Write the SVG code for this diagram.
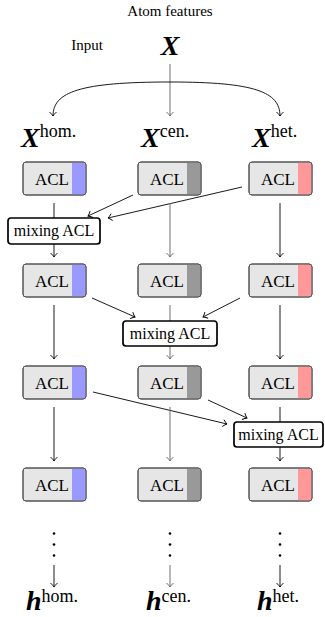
<svg xmlns="http://www.w3.org/2000/svg" width="325" height="617" viewBox="0 0 325 617" font-family="'Liberation Serif','Times New Roman',serif">
<style>
text{font-family:"Liberation Serif","Times New Roman",serif;fill:#000}
.lbl{font-size:15px;text-anchor:middle}
.big{font-size:28px;font-weight:bold;font-style:italic}
.sup{font-size:18px}
.acl{font-size:17px;text-anchor:middle}
.mix{font-size:16px;text-anchor:middle}
.box{fill:#e6e6e6;stroke:#555;stroke-width:1}
.mbox{fill:#fff;stroke:#000;stroke-width:1.7}
.k{fill:none;stroke:#000;stroke-width:0.9}
.g{fill:none;stroke:#707070;stroke-width:1}
.ka{fill:none;stroke:#000;stroke-width:0.9;marker-end:url(#ak)}
.ga{fill:none;stroke:#707070;stroke-width:1;marker-end:url(#ag)}
.dot{fill:#000}
</style>
<defs>
<marker id="ak" markerUnits="userSpaceOnUse" viewBox="-6 -5 8 10" markerWidth="8" markerHeight="10" refX="0" refY="0" orient="auto" overflow="visible">
<path d="M-4,-3.5 Q-1.5,-0.8 0,0 Q-1.5,0.8 -4,3.5" fill="none" stroke="#000" stroke-width="0.9"/>
</marker>
<marker id="ag" markerUnits="userSpaceOnUse" viewBox="-6 -5 8 10" markerWidth="8" markerHeight="10" refX="0" refY="0" orient="auto" overflow="visible">
<path d="M-4,-3.5 Q-1.5,-0.8 0,0 Q-1.5,0.8 -4,3.5" fill="none" stroke="#707070" stroke-width="1"/>
</marker>
</defs>

<g id="title">
<text class="lbl" x="170" y="16">Atom features</text>
<text class="lbl" x="87" y="50">Input</text>
<text class="big" x="170" y="55" text-anchor="middle">X</text>
</g>

<g id="inputs">
<text x="21" y="147"><tspan class="big">X</tspan><tspan class="sup" dy="-10">hom.</tspan></text>
<text x="141" y="147"><tspan class="big">X</tspan><tspan class="sup" dy="-10">cen.</tspan></text>
<text x="252" y="147"><tspan class="big">X</tspan><tspan class="sup" dy="-10">het.</tspan></text>
</g>

<g id="connectors">
<path class="ga" d="M170,64 L170,116"/>
<path class="ka" d="M170,82 C80,82 53,92 53,116"/>
<path class="ka" d="M170,82 C255,82 280,92 280,116"/>
<path class="k" d="M54,203 L54,218"/>
<path class="ka" d="M54,244 L54,257"/>
<path class="ka" d="M133,195 L88,216"/>
<path class="ka" d="M242,187 L108,218"/>
<path class="ga" d="M170,203 L170,257"/>
<path class="ka" d="M280,203 L280,257"/>
<path class="ka" d="M92,298 L135,317"/>
<path class="ka" d="M240,298 L203,317"/>
<path class="g" d="M170,305 L170,321"/>
<path class="ga" d="M170,346 L170,359"/>
<path class="ka" d="M54,305 L54,359"/>
<path class="ka" d="M280,305 L280,359"/>
<path class="ka" d="M93,392 L227,424"/>
<path class="ka" d="M208,400 L247,418"/>
<path class="k" d="M280,407 L280,422"/>
<path class="ka" d="M280,447 L280,461"/>
<path class="ka" d="M54,407 L54,461"/>
<path class="ga" d="M170,407 L170,461"/>
<path class="ka" d="M54,565 L54,587"/>
<path class="ga" d="M170,565 L170,587"/>
<path class="ka" d="M280,565 L280,587"/>
</g>

<g id="acl-hom-1"><rect class="box" x="23" y="162" width="63" height="33" rx="3"/><path d="M72,162.5 H83 A2.5,2.5 0 0 1 85.5,165 V192 A2.5,2.5 0 0 1 83,194.5 H72 Z" fill="#9999ff"/><rect x="23" y="162" width="63" height="33" rx="3" fill="none" stroke="#555"/><text class="acl" x="52" y="185">ACL</text></g>
<g id="acl-cen-1"><rect class="box" x="138" y="162" width="63" height="33" rx="3"/><path d="M187,162.5 H198 A2.5,2.5 0 0 1 200.5,165 V192 A2.5,2.5 0 0 1 198,194.5 H187 Z" fill="#999999"/><rect x="138" y="162" width="63" height="33" rx="3" fill="none" stroke="#555"/><text class="acl" x="167" y="185">ACL</text></g>
<g id="acl-het-1"><rect class="box" x="249" y="162" width="63" height="33" rx="3"/><path d="M298,162.5 H309 A2.5,2.5 0 0 1 311.5,165 V192 A2.5,2.5 0 0 1 309,194.5 H298 Z" fill="#ff9999"/><rect x="249" y="162" width="63" height="33" rx="3" fill="none" stroke="#555"/><text class="acl" x="278" y="185">ACL</text></g>

<g id="acl-hom-2"><rect class="box" x="23" y="264" width="63" height="33" rx="3"/><path d="M72,264.5 H83 A2.5,2.5 0 0 1 85.5,267 V294 A2.5,2.5 0 0 1 83,296.5 H72 Z" fill="#9999ff"/><rect x="23" y="264" width="63" height="33" rx="3" fill="none" stroke="#555"/><text class="acl" x="52" y="287">ACL</text></g>
<g id="acl-cen-2"><rect class="box" x="138" y="264" width="63" height="33" rx="3"/><path d="M187,264.5 H198 A2.5,2.5 0 0 1 200.5,267 V294 A2.5,2.5 0 0 1 198,296.5 H187 Z" fill="#999999"/><rect x="138" y="264" width="63" height="33" rx="3" fill="none" stroke="#555"/><text class="acl" x="167" y="287">ACL</text></g>
<g id="acl-het-2"><rect class="box" x="249" y="264" width="63" height="33" rx="3"/><path d="M298,264.5 H309 A2.5,2.5 0 0 1 311.5,267 V294 A2.5,2.5 0 0 1 309,296.5 H298 Z" fill="#ff9999"/><rect x="249" y="264" width="63" height="33" rx="3" fill="none" stroke="#555"/><text class="acl" x="278" y="287">ACL</text></g>

<g id="acl-hom-3"><rect class="box" x="23" y="366" width="63" height="33" rx="3"/><path d="M72,366.5 H83 A2.5,2.5 0 0 1 85.5,369 V396 A2.5,2.5 0 0 1 83,398.5 H72 Z" fill="#9999ff"/><rect x="23" y="366" width="63" height="33" rx="3" fill="none" stroke="#555"/><text class="acl" x="52" y="389">ACL</text></g>
<g id="acl-cen-3"><rect class="box" x="138" y="366" width="63" height="33" rx="3"/><path d="M187,366.5 H198 A2.5,2.5 0 0 1 200.5,369 V396 A2.5,2.5 0 0 1 198,398.5 H187 Z" fill="#999999"/><rect x="138" y="366" width="63" height="33" rx="3" fill="none" stroke="#555"/><text class="acl" x="167" y="389">ACL</text></g>
<g id="acl-het-3"><rect class="box" x="249" y="366" width="63" height="33" rx="3"/><path d="M298,366.5 H309 A2.5,2.5 0 0 1 311.5,369 V396 A2.5,2.5 0 0 1 309,398.5 H298 Z" fill="#ff9999"/><rect x="249" y="366" width="63" height="33" rx="3" fill="none" stroke="#555"/><text class="acl" x="278" y="389">ACL</text></g>

<g id="acl-hom-4"><rect class="box" x="23" y="468" width="63" height="33" rx="3"/><path d="M72,468.5 H83 A2.5,2.5 0 0 1 85.5,471 V498 A2.5,2.5 0 0 1 83,500.5 H72 Z" fill="#9999ff"/><rect x="23" y="468" width="63" height="33" rx="3" fill="none" stroke="#555"/><text class="acl" x="52" y="491">ACL</text></g>
<g id="acl-cen-4"><rect class="box" x="138" y="468" width="63" height="33" rx="3"/><path d="M187,468.5 H198 A2.5,2.5 0 0 1 200.5,471 V498 A2.5,2.5 0 0 1 198,500.5 H187 Z" fill="#999999"/><rect x="138" y="468" width="63" height="33" rx="3" fill="none" stroke="#555"/><text class="acl" x="167" y="491">ACL</text></g>
<g id="acl-het-4"><rect class="box" x="249" y="468" width="63" height="33" rx="3"/><path d="M298,468.5 H309 A2.5,2.5 0 0 1 311.5,471 V498 A2.5,2.5 0 0 1 309,500.5 H298 Z" fill="#ff9999"/><rect x="249" y="468" width="63" height="33" rx="3" fill="none" stroke="#555"/><text class="acl" x="278" y="491">ACL</text></g>

<g id="mix-1"><rect class="mbox" x="8" y="218" width="92" height="26" rx="3"/><text class="mix" x="54" y="236">mixing ACL</text></g>
<g id="mix-2"><rect class="mbox" x="123" y="321" width="94" height="25" rx="3"/><text class="mix" x="170" y="339">mixing ACL</text></g>
<g id="mix-3"><rect class="mbox" x="234" y="422" width="89" height="25" rx="3"/><text class="mix" x="278.5" y="440">mixing ACL</text></g>

<g id="dots">
<circle class="dot" cx="54" cy="533.5" r="1.3"/><circle class="dot" cx="54" cy="544.5" r="1.3"/><circle class="dot" cx="54" cy="555.5" r="1.3"/>
<circle class="dot" cx="170" cy="533.5" r="1.3"/><circle class="dot" cx="170" cy="544.5" r="1.3"/><circle class="dot" cx="170" cy="555.5" r="1.3"/>
<circle class="dot" cx="280" cy="533.5" r="1.3"/><circle class="dot" cx="280" cy="544.5" r="1.3"/><circle class="dot" cx="280" cy="555.5" r="1.3"/>
</g>

<g id="outputs">
<text x="26" y="610"><tspan class="big">h</tspan><tspan class="sup" dy="-8">hom.</tspan></text>
<text x="146" y="610"><tspan class="big">h</tspan><tspan class="sup" dy="-8">cen.</tspan></text>
<text x="257" y="610"><tspan class="big">h</tspan><tspan class="sup" dy="-8">het.</tspan></text>
</g>
</svg>
